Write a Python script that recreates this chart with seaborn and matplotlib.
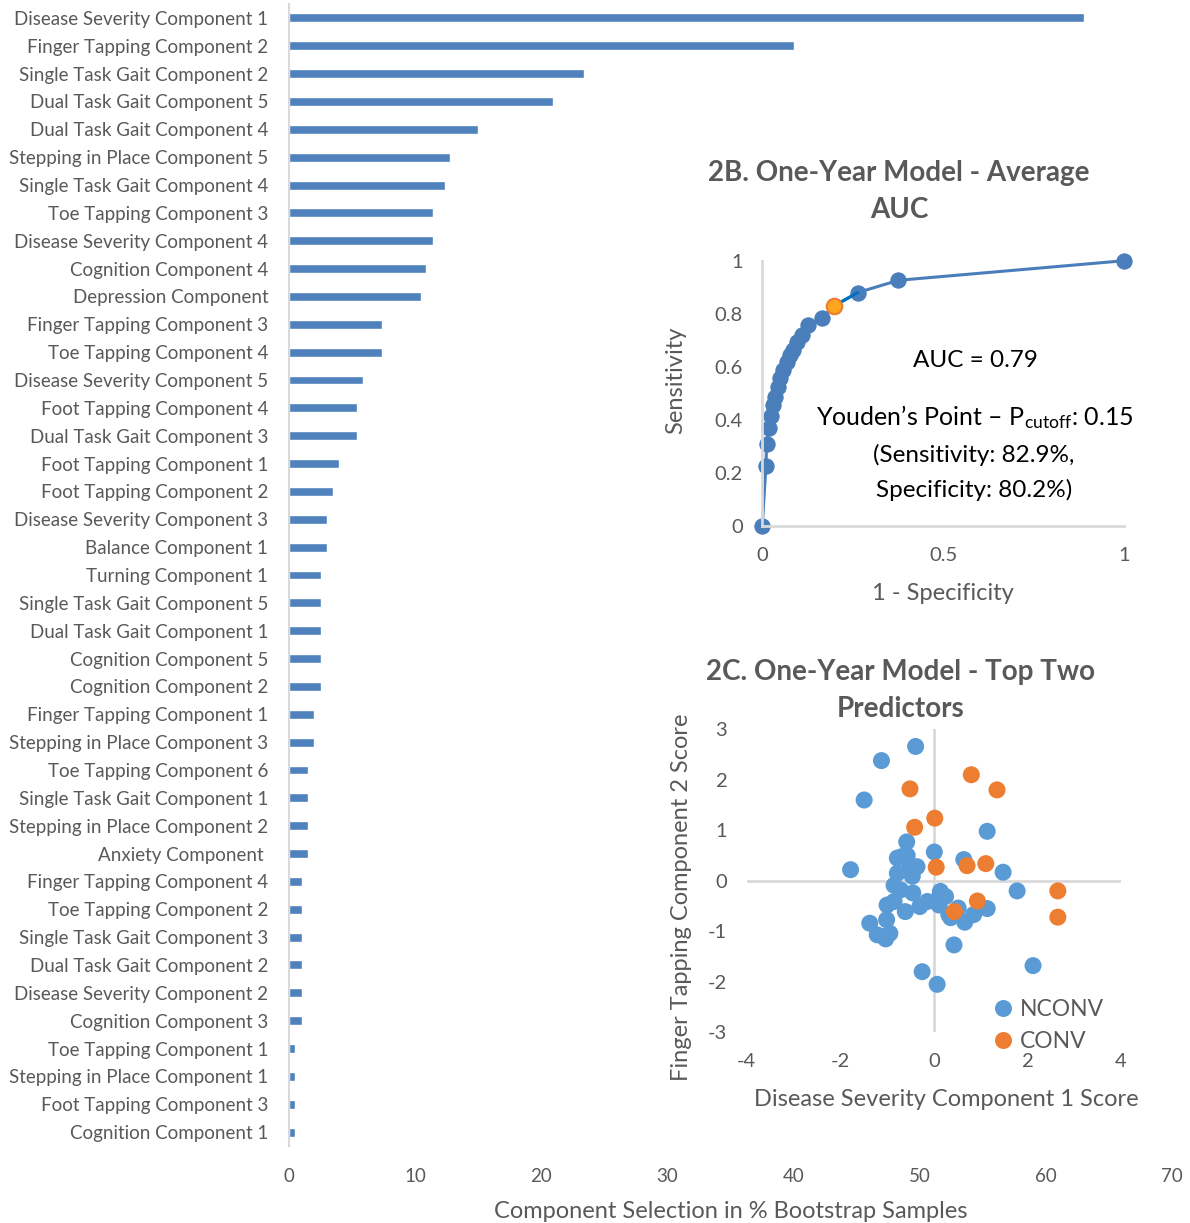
import matplotlib
matplotlib.use("Agg")
import matplotlib.pyplot as plt
import seaborn as sns
import pandas as pd

# ---- Component selection frequencies (% of bootstrap samples) ----
components = [
    "Disease Severity Component 1", "Finger Tapping Component 2", "Single Task Gait Component 2",
    "Dual Task Gait Component 5", "Dual Task Gait Component 4", "Stepping in Place Component 5",
    "Single Task Gait Component 4", "Toe Tapping Component 3", "Disease Severity Component 4",
    "Cognition Component 4", "Depression Component", "Finger Tapping Component 3",
    "Toe Tapping Component 4", "Disease Severity Component 5", "Foot Tapping Component 4",
    "Dual Task Gait Component 3", "Foot Tapping Component 1", "Foot Tapping Component 2",
    "Disease Severity Component 3", "Balance Component 1", "Turning Component 1",
    "Single Task Gait Component 5", "Dual Task Gait Component 1", "Cognition Component 5",
    "Cognition Component 2", "Finger Tapping Component 1", "Stepping in Place Component 3",
    "Toe Tapping Component 6", "Single Task Gait Component 1", "Stepping in Place Component 2",
    "Anxiety Component ", "Finger Tapping Component 4", "Toe Tapping Component 2",
    "Single Task Gait Component 3", "Dual Task Gait Component 2", "Disease Severity Component 2",
    "Cognition Component 3", "Toe Tapping Component 1", "Stepping in Place Component 1",
    "Foot Tapping Component 3", "Cognition Component 1",
]
selection_pct = [
    63.0, 40.0, 23.4, 20.9, 15.0, 12.8, 12.4, 11.4, 11.4, 10.9, 10.5, 7.4, 7.4, 5.9, 5.4, 5.4,
    4.0, 3.5, 3.0, 3.0, 2.5, 2.5, 2.5, 2.5, 2.5, 2.0, 2.0, 1.5, 1.5, 1.5, 1.5, 1.0, 1.0, 1.0,
    1.0, 1.0, 1.0, 0.5, 0.5, 0.5, 0.5,
]
x_ticks_main = [0, 10, 20, 30, 40, 50, 60, 70]

# ---- ROC curve of the one-year model ----
roc_fpr = [0, 0.010, 0.012, 0.018, 0.024, 0.030, 0.035, 0.042, 0.049, 0.058, 0.067, 0.076,
           0.086, 0.095, 0.109, 0.127, 0.164, 0.198, 0.264, 0.376, 1.0]
roc_tpr = [0, 0.225, 0.308, 0.367, 0.414, 0.455, 0.487, 0.525, 0.556, 0.588, 0.619, 0.644,
           0.663, 0.694, 0.720, 0.757, 0.783, 0.829, 0.880, 0.926, 1.0]
youden_fpr = [0.198]
youden_tpr = [0.829]

# ---- Scores on the top two predictors ----
nconv_x = [-0.39, -1.12, -1.49, 1.14, -0.58, 0.01, -1.78, 0.64, 1.48, 1.78, 1.14, 0.85, 0.66,
           0.36, 0.52, 0.43, 2.12, -0.25, 0.07, -0.78, -0.68, -0.57, -0.36, -0.53, -0.78, -0.46,
           -0.85, -0.71, -0.45, -1.00, -0.85, -0.61, -1.01, -1.37, -1.21, -1.03, -0.94, -0.30,
           -0.14, 0.07, 0.14, 0.25, 0.11, 0.32]
nconv_y = [2.66, 2.38, 1.60, 0.98, 0.77, 0.57, 0.22, 0.42, 0.17, -0.20, -0.55, -0.67, -0.82,
           -0.73, -0.54, -1.27, -1.68, -1.80, -2.05, 0.45, 0.48, 0.50, 0.28, 0.22, 0.15, 0.09,
           -0.09, -0.18, -0.24, -0.48, -0.41, -0.61, -0.77, -0.84, -1.07, -1.15, -1.04, -0.51,
           -0.41, -0.38, -0.21, -0.31, -0.48, -0.67]
conv_x = [0.80, 1.35, -0.51, 0.02, -0.41, 0.05, 0.71, 1.11, 0.93, 0.44, 2.65, 2.65]
conv_y = [2.10, 1.80, 1.82, 1.24, 1.06, 0.27, 0.30, 0.34, -0.40, -0.61, -0.20, -0.72]

BAR_BLUE = "#4F81BD"
LINE_BLUE = "#4A7EBB"
PT_BLUE = "#5B9BD5"
PT_ORANGE = "#ED7D31"
GRAY_TXT = "#595959"
AXIS_GRAY = "#D9D9D9"

sns.set_theme(style="white")
plt.rcParams["font.family"] = ["Lato", "DejaVu Sans"]
plt.rcParams["axes.unicode_minus"] = False
plt.rcParams["mathtext.fontset"] = "custom"
plt.rcParams["mathtext.rm"] = "Lato"
plt.rcParams["mathtext.it"] = "Lato:italic"

W, H = 1190, 1223
fig = plt.figure(figsize=(W / 100, H / 100), dpi=100)

AXIS_TITLE_SIZE = 17
PANEL_TITLE = dict(ha="center", va="center", fontsize=20, fontweight="bold", color=GRAY_TXT)


def px_axes(x0, y0, x1, y1):
    """Axes spanning pixel box (x0, y0)-(x1, y1) measured from the top-left."""
    return fig.add_axes([x0 / W, 1 - y1 / H, (x1 - x0) / W, (y1 - y0) / H])


# ================= Bar chart =================
ax = px_axes(289, 4, 1172, 1146)
df = pd.DataFrame({"component": components, "pct": selection_pct})
sns.barplot(data=df, x="pct", y="component", orient="h", color=BAR_BLUE,
            saturation=1, width=0.32, ax=ax)
ax.set_xlim(0, 70)
ax.set_ylim(len(components) - 0.5, -0.5)
ax.set_xticks(x_ticks_main)
ax.tick_params(axis="both", length=0, colors=GRAY_TXT, labelsize=13.5)
ax.tick_params(axis="y", pad=15)
ax.tick_params(axis="x", pad=16)
ax.set_ylabel("")
ax.set_xlabel("Component Selection in % Bootstrap Samples", fontsize=AXIS_TITLE_SIZE,
              color=GRAY_TXT, labelpad=11)
for s in ["top", "right", "bottom"]:
    ax.spines[s].set_visible(False)
ax.spines["left"].set_color(AXIS_GRAY)
ax.spines["left"].set_linewidth(1.5)

# ================= ROC inset =================
ax2 = px_axes(762.3, 260.7, 1124.3, 525.7)
sns.lineplot(x=roc_fpr, y=roc_tpr, sort=False, estimator=None, color=LINE_BLUE, lw=2.2,
             marker="o", markersize=11, markeredgecolor=LINE_BLUE, ax=ax2, clip_on=False)
sns.lineplot(x=[youden_fpr[0], roc_fpr[18]], y=[youden_tpr[0], roc_tpr[18]], sort=False,
             estimator=None, color="#0070C0", lw=2.2, ax=ax2, clip_on=False)
sns.scatterplot(x=youden_fpr, y=youden_tpr, color="#FFA51F", edgecolor=PT_ORANGE,
                linewidth=1.5, s=125, ax=ax2, clip_on=False, zorder=5)
ax2.set_xlim(0, 1)
ax2.set_ylim(0, 1)
ax2.set_xticks([0, 0.5, 1])
ax2.set_xticklabels(["0", "0.5", "1"])
ax2.set_yticks([0, 0.2, 0.4, 0.6, 0.8, 1])
ax2.set_yticklabels(["0", "0.2", "0.4", "0.6", "0.8", "1"])
ax2.tick_params(axis="both", length=0, colors=GRAY_TXT, labelsize=14.5)
ax2.tick_params(axis="y", pad=14)
ax2.tick_params(axis="x", pad=15)
ax2.patch.set_alpha(0)
for s in ["top", "right"]:
    ax2.spines[s].set_visible(False)
for s in ["left", "bottom"]:
    ax2.spines[s].set_color(AXIS_GRAY)
    ax2.spines[s].set_linewidth(2)
ax2.set_ylabel("Sensitivity", fontsize=AXIS_TITLE_SIZE, color=GRAY_TXT)
ax2.yaxis.set_label_coords(-0.24, 0.55)
ax2.yaxis.label.set_va("center")
ax2.set_xlabel("1 - Specificity", fontsize=AXIS_TITLE_SIZE, color=GRAY_TXT)
ax2.xaxis.set_label_coords(0.5, -0.254)
ax2.xaxis.label.set_va("center")
ax2.text(0.378, 1.331, "2B. One-Year Model - Average", transform=ax2.transAxes, **PANEL_TITLE)
ax2.text(0.378, 1.191, "AUC", transform=ax2.transAxes, **PANEL_TITLE)
ax2.text(0.588, 0.625, "AUC = 0.79", ha="center", va="center", fontsize=17.5, color="black")
ax2.text(0.588, 0.41, "Youden\u2019s Point \u2013 P$_{\\mathrm{cutoff}}$: 0.15", ha="center",
         va="center", fontsize=18, color="black")
ax2.text(0.584, 0.266, "(Sensitivity: 82.9%,", ha="center", va="center", fontsize=17.5,
         color="black")
ax2.text(0.586, 0.134, "Specificity: 80.2%)", ha="center", va="center", fontsize=17.5,
         color="black")

# ================= Scatter inset =================
ax3 = px_axes(746.7, 729.3, 1121.0, 1032.3)
sc_df = pd.DataFrame({
    "x": nconv_x + conv_x,
    "y": nconv_y + conv_y,
    "group": ["NCONV"] * len(nconv_x) + ["CONV"] * len(conv_x),
})
ax3.axhline(0, color=AXIS_GRAY, lw=2, zorder=0)
ax3.axvline(0, color=AXIS_GRAY, lw=2, zorder=0)
sns.scatterplot(data=sc_df, x="x", y="y", hue="group", hue_order=["NCONV", "CONV"],
                palette={"NCONV": PT_BLUE, "CONV": PT_ORANGE}, s=150, linewidth=0,
                ax=ax3, clip_on=False, zorder=3)
ax3.set_xlim(-4, 4)
ax3.set_ylim(-3, 3)
ax3.set_xticks([-4, -2, 0, 2, 4])
ax3.set_yticks([-3, -2, -1, 0, 1, 2, 3])
ax3.tick_params(axis="both", length=0, colors=GRAY_TXT, labelsize=14.5)
ax3.tick_params(axis="y", pad=14)
ax3.tick_params(axis="x", pad=15)
ax3.patch.set_alpha(0)
for s in ax3.spines.values():
    s.set_visible(False)
ax3.set_ylabel("Finger Tapping Component 2 Score", fontsize=AXIS_TITLE_SIZE, color=GRAY_TXT)
ax3.yaxis.set_label_coords(-0.173, 0.447)
ax3.yaxis.label.set_va("center")
ax3.set_xlabel("Disease Severity Component 1 Score", fontsize=AXIS_TITLE_SIZE, color=GRAY_TXT)
ax3.xaxis.set_label_coords(0.532, -0.223)
ax3.xaxis.label.set_va("center")
ax3.text(0.412, 1.189, "2C. One-Year Model - Top Two", transform=ax3.transAxes, **PANEL_TITLE)
ax3.text(0.412, 1.067, "Predictors", transform=ax3.transAxes, **PANEL_TITLE)
leg = ax3.legend(loc="center left", bbox_to_anchor=(0.60, 0.022), frameon=False,
                 fontsize=16.5, handletextpad=-0.3, labelspacing=0.5, borderaxespad=0,
                 markerscale=1.0)
for t in leg.get_texts():
    t.set_color(GRAY_TXT)

fig.savefig("out.png", dpi=100)
